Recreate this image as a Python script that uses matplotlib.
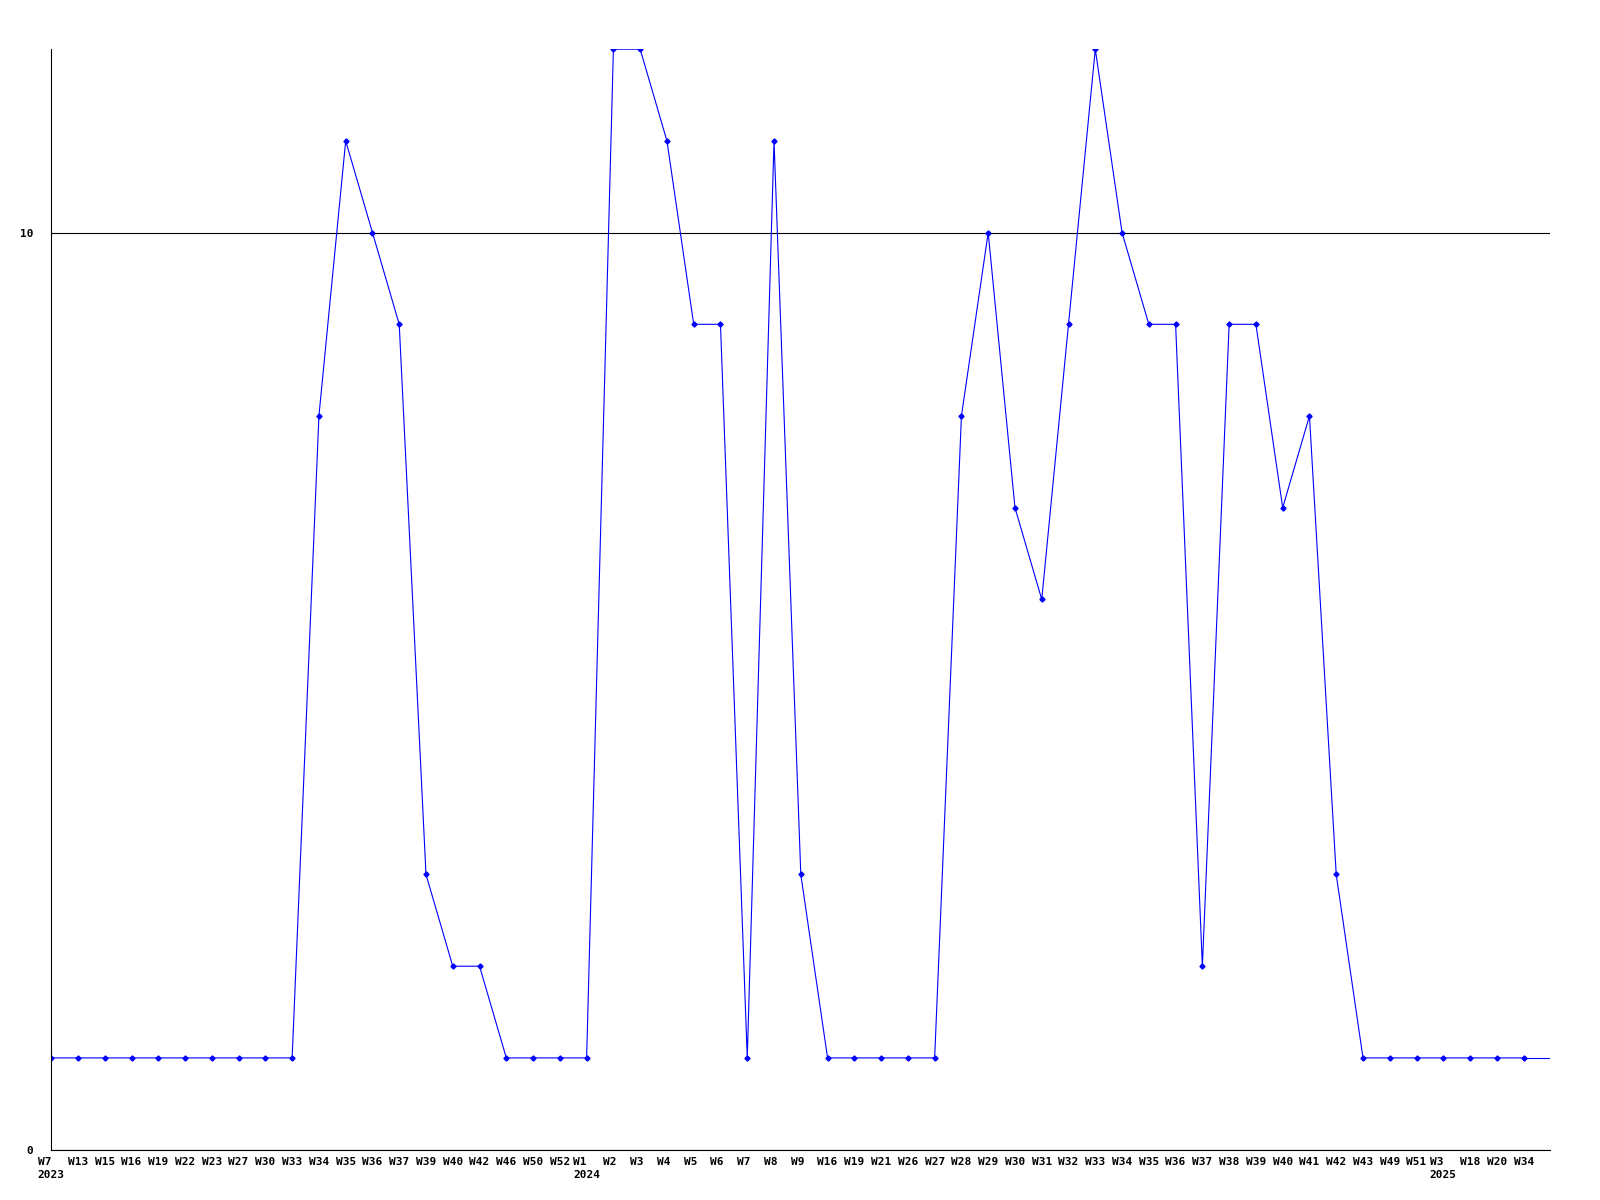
import matplotlib
matplotlib.use("Agg")
import matplotlib.pyplot as plt

weeks = [
    # 2023
    "W7", "W13", "W15", "W16", "W19", "W22", "W23", "W27", "W30", "W33",
    "W34", "W35", "W36", "W37", "W39", "W40", "W42", "W46", "W50", "W52",
    # 2024
    "W1", "W2", "W3", "W4", "W5", "W6", "W7", "W8", "W9", "W16",
    "W19", "W21", "W26", "W27", "W28", "W29", "W30", "W31", "W32", "W33",
    "W34", "W35", "W36", "W37", "W38", "W39", "W40", "W41", "W42", "W43",
    "W49", "W51",
    # 2025
    "W3", "W18", "W20", "W34",
]
years = {0: "2023", 20: "2024", 52: "2025"}
counts = [
    1, 1, 1, 1, 1, 1, 1, 1, 1, 1,
    8, 11, 10, 9, 3, 2, 2, 1, 1, 1,
    1, 12, 12, 11, 9, 9, 1, 11, 3, 1,
    1, 1, 1, 1, 8, 10, 7, 6, 9, 12,
    10, 9, 9, 2, 9, 9, 7, 8, 3, 1,
    1, 1,
    1, 1, 1, 1,
]
y_ticks = [0, 10]

BLUE = "#0000ff"
FONT = "DejaVu Sans Mono"

fig = plt.figure(figsize=(16, 12), dpi=100)
ax = fig.add_axes([0.032, 0.042, 0.937, 0.917])

x = list(range(len(counts)))
ax.plot(x, counts, color=BLUE, linewidth=0.8, marker="D", markersize=2.6,
        markerfacecolor=BLUE, markeredgecolor=BLUE)
# the line runs on to the right edge of the plot at the last value
ax.plot([x[-1], len(counts)], [counts[-1], counts[-1]], color=BLUE, linewidth=0.8)

ax.set_xlim(0, len(counts))
ax.set_ylim(0, 12)

labels = []
for i, w in enumerate(weeks):
    lab = w.ljust(3)
    if i in years:
        lab = lab + "\n" + years[i]
    labels.append(lab)
ax.set_xticks(x)
ax.set_xticklabels(labels, fontfamily=FONT, fontweight="bold", fontsize=8,
                   linespacing=1.45, ha="center", multialignment="left")
ax.set_yticks(y_ticks)
ax.set_yticklabels([str(v) for v in y_ticks], fontfamily=FONT, fontweight="bold", fontsize=8)
ax.tick_params(axis="x", length=0, pad=5)
ax.tick_params(axis="y", length=0, pad=13)

ax.grid(axis="y", color="black", linewidth=0.8)
ax.set_axisbelow(True)
for side in ("top", "right"):
    ax.spines[side].set_visible(False)
for side in ("left", "bottom"):
    ax.spines[side].set_linewidth(0.8)
    ax.spines[side].set_color("black")

fig.savefig("out.png", dpi=100, facecolor="white")
